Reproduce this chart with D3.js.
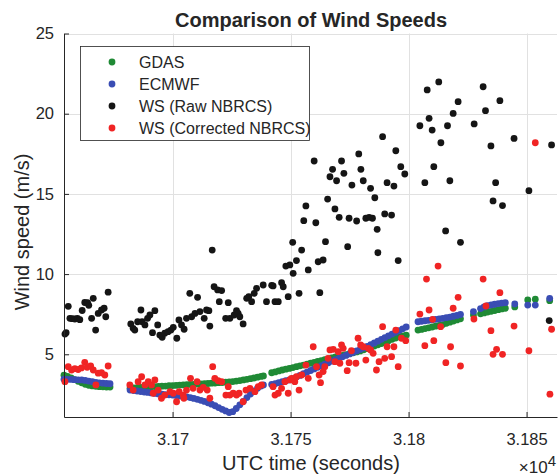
<!DOCTYPE html>
<html>
<head>
<meta charset="utf-8">
<script src="https://cdn.jsdelivr.net/npm/d3@7"></script>
<style>
  body { margin: 0; background: #fff; }
  svg { display: block; font-family: "Liberation Sans", Arial, Helvetica, sans-serif; }
</style>
</head>
<body>
<svg id="chart" width="558" height="476"></svg>
<script>
/* ---------------------------------------------------
   Data  (time in seconds UTC, speed in m/s)
--------------------------------------------------- */

const modelTime = [
  31654, 31655.5, 31657, 31658.5, 31660, 31661.5, 31663, 31664.5, 31666, 31667.5, 31669, 31670.5, 31672, 31673.5,
  31682, 31683.5, 31685, 31686.5, 31688, 31689.5, 31691, 31692.5, 31694, 31695.5, 31697, 31698.5, 31700, 31701.5,
  31703, 31704.5, 31706, 31707.5, 31709, 31710.5, 31712, 31713.5, 31715, 31716.5, 31718, 31719.5, 31721, 31722.5,
  31724, 31725.5, 31727, 31728.5, 31730, 31731.5, 31733, 31734.5, 31736, 31737.5, 31738.5,
  31742, 31743.5, 31745, 31746.5, 31748, 31749.5, 31751, 31752.5, 31754, 31755.5, 31757, 31758.5, 31760, 31761.5,
  31763, 31764.5, 31766, 31767.5, 31769, 31770.5, 31772, 31773.5, 31775, 31776.5, 31778, 31779.5, 31781, 31782.5,
  31784, 31785.5, 31787, 31788.5, 31790, 31791.5, 31793, 31794.5, 31796, 31797.5, 31799,
  31804, 31805.5, 31807, 31808.5, 31810, 31811.5, 31813, 31814.5, 31816, 31817.5, 31819, 31820.5, 31822,
  31827.5, 31830.5, 31832, 31833.5, 31835, 31836.5, 31838, 31839.5, 31841,
  31845, 31850.5, 31853.7, 31859.8
];

const gdasSpeed = [
  3.70, 3.62, 3.52, 3.42, 3.32, 3.22, 3.13, 3.07, 3.03, 3.00, 2.98, 2.97, 2.96, 2.96,
  2.88, 2.90, 2.92, 2.94, 2.96, 2.97, 2.98, 2.99, 3.00, 3.01, 3.02, 3.04, 3.05, 3.06,
  3.08, 3.09, 3.10, 3.12, 3.13, 3.14, 3.15, 3.17, 3.18, 3.20, 3.21, 3.23, 3.24, 3.26,
  3.28, 3.30, 3.33, 3.36, 3.40, 3.44, 3.48, 3.52, 3.57, 3.62, 3.65,
  3.85, 3.90, 3.96, 4.02, 4.07, 4.12, 4.17, 4.23, 4.28, 4.33, 4.39, 4.44, 4.50, 4.55,
  4.61, 4.66, 4.72, 4.77, 4.83, 4.88, 4.93, 4.98, 5.04, 5.09, 5.15, 5.21, 5.28, 5.35,
  5.43, 5.51, 5.59, 5.67, 5.76, 5.84, 5.93, 6.01, 6.09, 6.14, 6.19,
  6.51, 6.55, 6.60, 6.65, 6.70, 6.75, 6.80, 6.85, 6.93, 7.00, 7.07, 7.14, 7.21,
  7.45, 7.52, 7.58, 7.63, 7.68, 7.73, 7.78, 7.83, 7.87,
  7.95, 8.39, 8.43, 8.34
];

const ecmwfSpeed = [
  3.45, 3.44, 3.43, 3.42, 3.41, 3.40, 3.37, 3.33, 3.29, 3.25, 3.22, 3.20, 3.18, 3.17,
  2.77, 2.74, 2.71, 2.68, 2.65, 2.62, 2.59, 2.56, 2.53, 2.51, 2.49, 2.47, 2.46, 2.43,
  2.40, 2.38, 2.35, 2.30, 2.25, 2.19, 2.13, 2.06, 1.98, 1.89, 1.79, 1.68, 1.57, 1.47,
  1.37, 1.42, 1.62, 1.85, 2.07, 2.30, 2.52, 2.72, 2.88, 3.02, 3.09,
  3.12, 3.17, 3.23, 3.29, 3.35, 3.40, 3.48, 3.58, 3.68, 3.79, 3.89, 3.99, 4.09, 4.19,
  4.29, 4.38, 4.47, 4.57, 4.66, 4.75, 4.84, 4.93, 5.02, 5.11, 5.21, 5.30, 5.39, 5.49,
  5.60, 5.71, 5.82, 5.93, 6.04, 6.15, 6.26, 6.37, 6.48, 6.59, 6.70,
  7.03, 7.06, 7.09, 7.12, 7.15, 7.18, 7.21, 7.24, 7.28, 7.32, 7.37, 7.42, 7.48,
  7.66, 7.85, 7.95, 8.03, 8.08, 8.12, 8.16, 8.19, 8.22,
  8.14, 8.07, 8.07, 8.49
];

// [time, speed]
const rawNbrcs = [
  [31654.4, 6.26], [31654.9, 6.35], [31655.8, 7.99], [31656.5, 7.24], [31657.5, 7.22], [31658.6, 7.20],
  [31659.7, 7.24], [31660.7, 7.16], [31661.7, 7.73], [31662.8, 8.23], [31664.0, 8.22], [31664.5, 8.05],
  [31665.7, 7.24], [31666.4, 8.49], [31667.4, 6.51], [31668.5, 7.55], [31669.9, 7.76], [31671.0, 7.87],
  [31671.7, 7.34], [31672.7, 8.87],
  [31682.3, 6.89], [31683.3, 6.62], [31684.0, 6.51], [31685.2, 7.03], [31686.6, 7.76], [31687.1, 7.03],
  [31688.3, 6.83], [31689.4, 7.24], [31690.4, 7.45], [31691.5, 6.35], [31692.5, 7.72], [31693.7, 6.83],
  [31694.6, 6.20], [31695.6, 6.06], [31696.7, 6.31], [31698.1, 6.41], [31699.3, 6.51], [31700.3, 6.68],
  [31701.8, 6.00], [31702.7, 7.14], [31703.8, 6.83], [31704.9, 6.56], [31705.9, 7.24], [31707.3, 8.80],
  [31708.1, 7.34], [31709.5, 7.55], [31710.6, 8.55], [31711.6, 7.66], [31713.4, 7.24], [31714.4, 7.76],
  [31715.4, 7.72], [31715.8, 6.76], [31716.8, 11.50], [31717.6, 9.21], [31719.1, 9.01], [31719.8, 8.28],
  [31720.8, 8.97], [31722.5, 7.24], [31723.6, 8.22], [31724.3, 7.24], [31726.1, 7.45], [31727.1, 7.72],
  [31727.8, 7.55], [31728.5, 7.34], [31729.9, 6.89], [31731.4, 8.49], [31732.3, 8.59], [31733.5, 8.28],
  [31734.6, 8.80], [31735.6, 9.11], [31738.4, 9.32], [31739.8, 8.28],
  [31742.0, 9.30], [31742.6, 9.26], [31743.4, 8.28], [31744.8, 8.28], [31746.2, 9.46], [31746.9, 9.21],
  [31748.0, 10.50], [31749.0, 8.59], [31749.7, 10.57], [31750.9, 11.98], [31751.1, 10.05], [31752.5, 10.84],
  [31753.6, 8.80], [31754.7, 11.50], [31755.6, 13.33], [31756.5, 14.25], [31757.5, 10.26], [31760.0, 17.05],
  [31760.7, 13.20], [31761.7, 10.77], [31762.4, 8.84], [31763.8, 10.88], [31764.8, 12.02], [31765.7, 14.68],
  [31766.7, 16.07], [31767.8, 16.53], [31768.8, 14.06], [31769.5, 15.82], [31770.6, 13.54], [31771.6, 17.05],
  [31772.6, 16.28], [31774.2, 11.71], [31774.8, 13.48], [31776.0, 15.55], [31778.0, 13.31], [31778.9, 17.49],
  [31779.8, 16.53], [31780.8, 15.82], [31781.9, 13.48], [31783.3, 13.54], [31783.9, 15.35], [31784.7, 13.48],
  [31785.7, 14.76], [31786.7, 12.79], [31787.0, 11.33], [31789.0, 18.57], [31789.9, 13.75], [31790.9, 15.70],
  [31792.8, 13.68], [31793.8, 15.49], [31794.6, 17.69], [31795.6, 10.84], [31796.7, 16.70], [31798.4, 16.24],
  [31804.8, 19.25], [31806.9, 15.70], [31807.9, 21.48], [31808.7, 19.71], [31810.0, 18.98], [31810.7, 16.70],
  [31812.8, 21.98], [31813.7, 18.19], [31815.7, 12.69], [31816.5, 19.25], [31817.5, 15.82], [31818.9, 20.02],
  [31821.0, 20.75], [31822.0, 11.98], [31827.8, 19.36], [31831.6, 21.68], [31832.6, 20.19], [31834.9, 17.99],
  [31835.8, 14.56], [31836.9, 15.70], [31838.7, 20.81], [31839.8, 14.27], [31844.7, 18.46], [31851.0, 15.20],
  [31859.6, 7.10], [31860.6, 18.05]
];

// [time, speed]
const correctedNbrcs = [
  [31654.4, 3.29], [31655.8, 4.23], [31657.2, 4.02], [31658.6, 4.10], [31660.0, 4.05], [31661.4, 4.15],
  [31662.8, 4.50], [31663.8, 4.19], [31665.3, 4.27], [31666.4, 4.02], [31667.5, 3.09], [31668.5, 3.82],
  [31669.9, 3.85], [31671.3, 3.71], [31672.7, 4.27],
  [31681.9, 3.09], [31683.3, 2.77], [31685.4, 3.29], [31686.9, 3.60], [31688.3, 3.09], [31689.7, 3.29],
  [31691.1, 3.09], [31691.8, 2.57], [31692.5, 3.40], [31693.9, 2.77], [31695.3, 2.26], [31696.7, 2.46],
  [31698.9, 2.67], [31700.3, 2.57], [31701.7, 2.04], [31702.8, 2.67], [31704.5, 2.46], [31704.8, 2.26],
  [31705.9, 2.77], [31707.6, 3.50], [31708.7, 2.88], [31710.4, 3.29], [31711.6, 2.77], [31713.0, 2.94],
  [31714.7, 2.77], [31715.8, 2.26], [31717.0, 4.23], [31717.9, 3.50], [31719.3, 3.35], [31720.8, 3.29],
  [31722.6, 2.46], [31723.6, 2.98], [31724.3, 2.46], [31725.7, 2.57], [31727.1, 2.46], [31728.2, 2.57],
  [31729.9, 2.04], [31731.1, 2.77], [31732.8, 2.88], [31734.9, 2.67], [31736.3, 2.98], [31737.7, 3.09],
  [31742.6, 2.98], [31743.4, 2.46], [31744.8, 2.57], [31746.2, 2.88], [31747.6, 3.29], [31749.0, 2.57],
  [31749.7, 3.40], [31750.4, 3.50], [31751.8, 3.29], [31752.5, 3.60], [31753.6, 2.77], [31754.7, 3.71],
  [31756.5, 4.33], [31757.5, 3.50], [31759.6, 5.47], [31761.0, 4.23], [31762.1, 3.71], [31762.7, 3.23],
  [31763.8, 3.92], [31764.5, 4.23], [31765.9, 4.75], [31766.7, 5.27], [31768.1, 5.31], [31768.8, 4.54],
  [31770.2, 5.16], [31770.9, 4.44], [31771.6, 5.58], [31772.3, 5.37], [31774.0, 3.98], [31774.8, 4.48],
  [31775.8, 5.22], [31777.7, 4.44], [31778.6, 6.00], [31779.7, 5.58], [31780.8, 5.47], [31781.9, 4.64],
  [31782.9, 5.37], [31783.9, 5.27], [31785.0, 5.06], [31786.4, 4.02], [31787.5, 4.54], [31789.0, 6.72],
  [31789.9, 4.75], [31790.9, 5.47], [31792.8, 4.85], [31793.8, 5.47], [31794.6, 6.51], [31795.6, 4.23],
  [31797.0, 6.00], [31798.8, 5.85],
  [31804.8, 7.51], [31806.9, 5.54], [31807.6, 9.69], [31808.7, 7.76], [31810.2, 7.18], [31810.7, 5.85],
  [31812.5, 10.50], [31813.6, 6.72], [31815.8, 4.48], [31817.8, 5.47], [31818.9, 7.87], [31821.0, 8.55],
  [31822.0, 4.27], [31827.7, 7.20], [31831.6, 9.69], [31832.8, 8.01], [31834.9, 6.47], [31835.8, 5.00],
  [31837.3, 5.31], [31838.7, 8.84], [31839.8, 5.00], [31844.7, 6.76], [31851.0, 5.22], [31853.7, 18.19],
  [31859.9, 2.51], [31860.6, 6.56]
];

const xTicks = [31700, 31750, 31800, 31850];
const yTicks = [5, 10, 15, 20, 25];
const seriesNames = ["GDAS", "ECMWF", "WS (Raw NBRCS)", "WS (Corrected NBRCS)"];
const seriesColors = ["#1f8a35", "#3a4db4", "#151515", "#f02424"];

/* ---------------------------------------------------
   Setup
--------------------------------------------------- */

const svg = d3.select("#chart");
const ink = "#262626";
const dotR = 3.4;

const x = d3.scaleLinear().domain([31654, 31862.9]).range([64, 557]);
const y = d3.scaleLinear().domain([1.09, 25]).range([417, 33.5]);

/* ---------------------------------------------------
   Grid
--------------------------------------------------- */

const grid = svg.append("g").attr("stroke", "#e1e1e1").attr("stroke-width", 1);

grid.selectAll("line.gx")
  .data(xTicks)
  .join("line")
  .attr("class", "gx")
  .attr("x1", d => Math.round(x(d)) + 0.5)
  .attr("x2", d => Math.round(x(d)) + 0.5)
  .attr("y1", y.range()[0])
  .attr("y2", y.range()[1]);

grid.selectAll("line.gy")
  .data(yTicks)
  .join("line")
  .attr("class", "gy")
  .attr("x1", x.range()[0])
  .attr("x2", x.range()[1])
  .attr("y1", d => Math.round(y(d)) + 0.5)
  .attr("y2", d => Math.round(y(d)) + 0.5);

/* ---------------------------------------------------
   Points
--------------------------------------------------- */

const modelRows = modelTime.map((t, i) => ({ t: t, g: gdasSpeed[i], e: ecmwfSpeed[i] }));

svg.append("g")
  .selectAll("circle")
  .data(modelRows)
  .join("circle")
  .attr("cx", d => x(d.t))
  .attr("cy", d => y(d.g))
  .attr("r", dotR)
  .attr("fill", seriesColors[0]);

svg.append("g")
  .selectAll("circle")
  .data(modelRows)
  .join("circle")
  .attr("cx", d => x(d.t))
  .attr("cy", d => y(d.e))
  .attr("r", dotR)
  .attr("fill", seriesColors[1]);

svg.append("g")
  .selectAll("circle")
  .data(rawNbrcs)
  .join("circle")
  .attr("cx", d => x(d[0]))
  .attr("cy", d => y(d[1]))
  .attr("r", dotR)
  .attr("fill", seriesColors[2]);

svg.append("g")
  .selectAll("circle")
  .data(correctedNbrcs)
  .join("circle")
  .attr("cx", d => x(d[0]))
  .attr("cy", d => y(d[1]))
  .attr("r", dotR)
  .attr("fill", seriesColors[3]);

/* ---------------------------------------------------
   Axes
--------------------------------------------------- */

const xAxis = svg.append("g")
  .attr("transform", `translate(0,${y.range()[0]})`)
  .call(d3.axisBottom(x)
    .tickValues(xTicks)
    .tickSizeInner(-5)
    .tickSizeOuter(0)
    .tickPadding(16)
    .tickFormat(d => String(+(d / 1e4).toFixed(3))));

const yAxis = svg.append("g")
  .attr("transform", `translate(${x.range()[0]},0)`)
  .call(d3.axisLeft(y)
    .tickValues(yTicks)
    .tickSizeInner(-5)
    .tickSizeOuter(0)
    .tickPadding(10));

[xAxis, yAxis].forEach(g => {
  g.select(".domain").attr("stroke", ink);
  g.selectAll(".tick line").attr("stroke", ink);
  g.selectAll(".tick text")
    .attr("fill", ink)
    .style("font-size", "16.5px")
    .style("font-family", "'Liberation Sans', Arial, sans-serif");
});

// exponent label
svg.append("text")
  .attr("x", 556)
  .attr("y", 473)
  .attr("text-anchor", "end")
  .attr("fill", ink)
  .style("font-size", "17px")
  .text("\u00d710")
  .append("tspan")
  .attr("dy", "-0.5em")
  .style("font-size", "15px")
  .text("4");

/* ---------------------------------------------------
   Labels
--------------------------------------------------- */

svg.append("text")
  .attr("x", 311)
  .attr("y", 27)
  .attr("text-anchor", "middle")
  .attr("fill", ink)
  .style("font-size", "20px")
  .style("font-weight", "bold")
  .text("Comparison of Wind Speeds");

svg.append("text")
  .attr("x", 311)
  .attr("y", 470)
  .attr("text-anchor", "middle")
  .attr("fill", ink)
  .style("font-size", "20px")
  .text("UTC time (seconds)");

svg.append("text")
  .attr("transform", "translate(29,232) rotate(-90)")
  .attr("text-anchor", "middle")
  .attr("fill", ink)
  .style("font-size", "20px")
  .text("Wind speed (m/s)");

/* ---------------------------------------------------
   Legend
--------------------------------------------------- */

const legend = svg.append("g");

legend.append("rect")
  .attr("x", 80.5)
  .attr("y", 46.5)
  .attr("width", 229)
  .attr("height", 94)
  .attr("fill", "#fff")
  .attr("stroke", ink)
  .attr("stroke-width", 0.8);

const item = legend.selectAll("g.item")
  .data(seriesNames)
  .join("g")
  .attr("class", "item")
  .attr("transform", (d, i) => `translate(0,${62 + i * 22})`);

item.append("circle")
  .attr("cx", 112)
  .attr("cy", 0)
  .attr("r", dotR)
  .attr("fill", (d, i) => seriesColors[i]);

item.append("text")
  .attr("x", 139)
  .attr("y", 0)
  .attr("dy", "0.36em")
  .attr("fill", ink)
  .style("font-size", "16px")
  .text(d => d);
</script>
</body>
</html>
